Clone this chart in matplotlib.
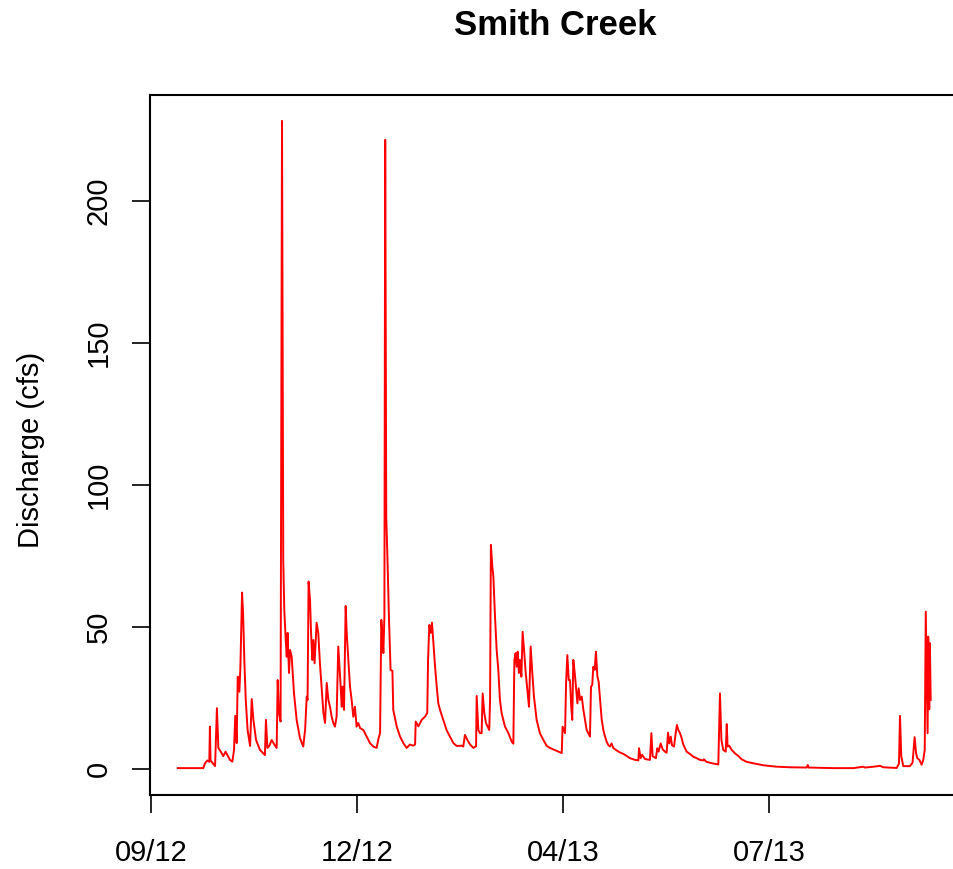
import pandas as pd
import numpy as np
import matplotlib
matplotlib.use('Agg')
import matplotlib.pyplot as plt
import matplotlib.dates as mdates

plt.rcParams['font.family'] = ['Liberation Sans', 'DejaVu Sans']

title = 'Smith Creek'
ylabel = 'Discharge (cfs)'
start = pd.Timestamp('2012-10-01')

days = [0, 12.4, 13.2, 14.3, 15.3, 15.6, 15.9, 18.1, 19.0, 19.7,
        21.3, 22.1, 23.2, 25.3, 26.5, 27.3, 27.9, 28.6, 29.1, 29.9,
        30.4, 31.2, 31.7, 32.3, 33.0, 33.9, 35.1, 35.9, 36.7, 38.0,
        39.9, 42.3, 42.8, 43.5, 44.4, 45.6, 46.7, 48.0, 48.5, 49.1,
        49.9, 50.6, 51.2, 51.7, 52.4, 52.9, 53.3, 54.0, 54.5, 55.3,
        55.8, 56.4, 57.7, 59.3, 60.9, 61.8, 62.6, 63.0, 63.5, 64.2,
        64.7, 65.3, 65.8, 66.4, 67.4, 68.2, 69.0, 69.8, 70.7, 71.5,
        72.3, 73.1, 73.9, 74.7, 75.5, 76.3, 77.1, 77.9, 78.7, 79.6,
        80.0, 80.7, 81.5, 82.0, 82.8, 83.6, 84.4, 85.2, 86.0, 86.8,
        87.6, 88.5, 90.1, 91.7, 93.3, 94.9, 96.5, 97.5, 98.2, 98.8,
        99.3, 99.8, 100.3, 100.7, 101.2, 101.9, 102.5, 103.3, 104.2, 104.6,
        106.3, 107.9, 109.5, 111.1, 112.7, 114.3, 115.2, 115.5, 116.8, 118.4,
        120.0, 121.1, 121.5, 122.1, 122.8, 123.4, 124.0, 124.9, 125.7, 126.5,
        127.3, 128.9, 130.5, 132.1, 133.8, 135.4, 137.8, 138.6, 139.4, 140.6,
        141.9, 143.5, 144.8, 145.1, 145.9, 146.7, 147.5, 148.0, 148.8, 149.6,
        150.4, 151.2, 151.6, 152.0, 152.7, 153.2, 154.0, 154.8, 155.6, 156.4,
        157.2, 158.8, 160.5, 162.1, 162.9, 163.4, 164.0, 164.5, 165.0, 165.6,
        166.1, 166.8, 167.4, 168.1, 168.9, 169.7, 170.5, 171.3, 172.1, 172.9,
        174.2, 175.8, 177.5, 179.1, 180.7, 186.4, 186.8, 188.0, 188.5, 189.1,
        189.8, 190.4, 191.0, 191.5, 192.0, 192.7, 193.3, 194.0, 194.6, 195.3,
        196.1, 196.9, 197.7, 198.5, 199.3, 200.1, 200.6, 201.2, 201.7, 202.4,
        203.0, 203.7, 204.3, 205.0, 205.8, 206.6, 207.4, 208.2, 209.0, 209.8,
        210.6, 211.4, 213.1, 214.7, 216.3, 217.9, 219.5, 222.0, 223.6, 223.9,
        224.7, 225.4, 226.8, 229.2, 229.9, 230.5, 232.1, 232.8, 233.4, 234.4,
        235.4, 236.5, 237.3, 238.0, 238.6, 239.3, 239.9, 240.9, 241.7, 242.3,
        243.0, 243.8, 244.6, 245.4, 247.0, 248.6, 250.3, 251.9, 253.5, 255.1,
        255.4, 256.7, 260.0, 262.4, 263.2, 263.9, 264.8, 266.0, 266.5, 266.9,
        267.7, 268.9, 270.5, 272.1, 273.7, 276.2, 279.4, 284.3, 290.7, 297.2,
        305.3, 305.8, 306.3, 318.2, 328.0, 332.8, 333.6, 337.7, 340.9, 342.5,
        349.0, 350.1, 350.6, 351.2, 352.2, 355.4, 356.7, 357.7, 358.4, 359.0,
        360.0, 361.1, 361.9, 362.6, 363.1, 363.5, 364.0, 364.3, 364.8, 365.1,
        365.5]

flow = [0.3, 0.3, 2.0, 3.0, 2.5, 14.9, 3.0, 1.0, 21.4, 7.4,
        5.6, 4.5, 6.1, 3.2, 2.6, 6.7, 18.7, 9.1, 32.5, 27.2,
        36.0, 62.1, 54.9, 38.4, 24.3, 13.7, 8.1, 24.6, 17.3, 10.2,
        6.7, 4.9, 17.3, 7.4, 8.1, 10.2, 8.8, 7.4, 31.3, 19.7,
        16.7, 228.2, 73.6, 56.0, 45.4, 39.5, 47.9, 33.8, 41.9, 39.5,
        33.8, 26.8, 17.3, 10.9, 7.9, 13.7, 25.5, 24.3, 66.0, 59.5,
        47.9, 38.4, 45.4, 37.2, 51.5, 47.9, 37.3, 29.0, 19.7, 16.2,
        30.3, 24.3, 21.9, 18.4, 16.2, 14.9, 18.4, 43.1, 33.8, 21.9,
        29.0, 20.8, 57.4, 47.9, 38.4, 29.0, 24.3, 18.4, 21.9, 14.9,
        16.2, 14.4, 13.7, 11.4, 9.1, 7.9, 7.4, 10.9, 12.6, 52.5,
        47.9, 40.8, 53.6, 221.5, 88.8, 71.2, 53.6, 34.9, 34.5, 20.8,
        14.9, 11.4, 9.1, 7.4, 8.6, 8.2, 8.6, 16.7, 15.0, 17.3,
        18.4, 19.7, 38.4, 50.7, 47.9, 51.5, 45.4, 36.0, 29.0, 23.0,
        20.8, 17.3, 13.7, 11.4, 9.1, 8.1, 8.2, 7.9, 12.0, 10.2,
        8.6, 7.4, 8.0, 25.7, 13.7, 12.6, 12.6, 26.6, 19.7, 16.2,
        14.9, 13.7, 24.3, 78.9, 71.2, 67.7, 53.6, 41.9, 34.9, 24.3,
        19.7, 15.0, 12.6, 9.6, 8.9, 38.4, 40.8, 36.0, 41.3, 33.8,
        38.4, 32.5, 48.3, 41.9, 33.8, 27.9, 21.9, 43.1, 33.8, 25.5,
        17.3, 12.6, 10.2, 8.1, 7.4, 5.6, 14.9, 12.6, 30.3, 40.1,
        31.3, 31.3, 21.9, 17.3, 38.4, 33.8, 29.0, 23.1, 28.4, 24.3,
        25.5, 20.8, 17.3, 13.7, 12.6, 11.4, 29.0, 29.6, 36.0, 34.9,
        41.3, 32.5, 30.8, 24.3, 17.3, 13.7, 11.4, 9.6, 8.4, 7.9,
        9.0, 7.4, 6.5, 5.8, 5.3, 4.6, 3.8, 3.2, 3.0, 7.3,
        3.8, 5.0, 3.5, 3.2, 12.6, 4.5, 3.8, 7.3, 6.1, 9.0,
        6.9, 6.1, 5.7, 12.8, 9.0, 11.4, 8.4, 7.9, 12.6, 15.5,
        13.7, 12.6, 10.9, 8.6, 6.1, 5.3, 4.3, 3.8, 3.2, 3.0,
        3.4, 2.5, 1.9, 1.6, 26.6, 10.2, 6.7, 6.1, 15.8, 7.9,
        8.2, 6.7, 5.5, 4.6, 3.4, 2.5, 2.0, 1.3, 0.8, 0.6,
        0.5, 1.4, 0.5, 0.3, 0.3, 0.8, 0.5, 0.8, 1.1, 0.6,
        0.35, 1.9, 18.7, 4.5, 1.0, 1.0, 2.2, 11.2, 5.6, 3.8,
        3.2, 1.5, 3.2, 6.7, 55.4, 36.0, 12.6, 46.6, 21.0, 44.3,
        24.3]

tick_dates = ['2012-09-18', '2012-12-27', '2013-04-06', '2013-07-15']
y_ticks = [0, 50, 100, 150, 200]

t = start + pd.to_timedelta(days, unit='D')
x = mdates.date2num(t.to_pydatetime())
x0 = mdates.date2num(start.to_pydatetime())

fig = plt.figure(figsize=(9.54, 8.69), dpi=100)
# plot region runs past the right edge, like the original
ax = fig.add_axes([0.1572, 0.0852, 0.8499, 0.8055])
ax.plot(x, flow, color='red', lw=1.4)

ax.set_xlim(x0 - 13.5, x0 + 380.1)
ax.set_ylim(-9.15, 237.3)

ax.set_xticks(mdates.date2num(pd.to_datetime(tick_dates).to_pydatetime()))
ax.xaxis.set_major_formatter(mdates.DateFormatter('%m/%y'))
ax.set_yticks(y_ticks)
ax.tick_params(direction='out', length=13, width=1.2, labelsize=21)
ax.tick_params(axis='x', pad=19)
ax.tick_params(axis='y', pad=14)
for lab in ax.get_yticklabels():
    lab.set_rotation(90)
    lab.set_va('center')
for s in ax.spines.values():
    s.set_linewidth(1.5)

ax.set_title(title, fontsize=25, fontweight='bold', pad=43)
fig.text(31 / 954, 1 - 450 / 869, ylabel, rotation=90, ha='center', va='center', fontsize=21)

fig.savefig('out.png', dpi=100)
